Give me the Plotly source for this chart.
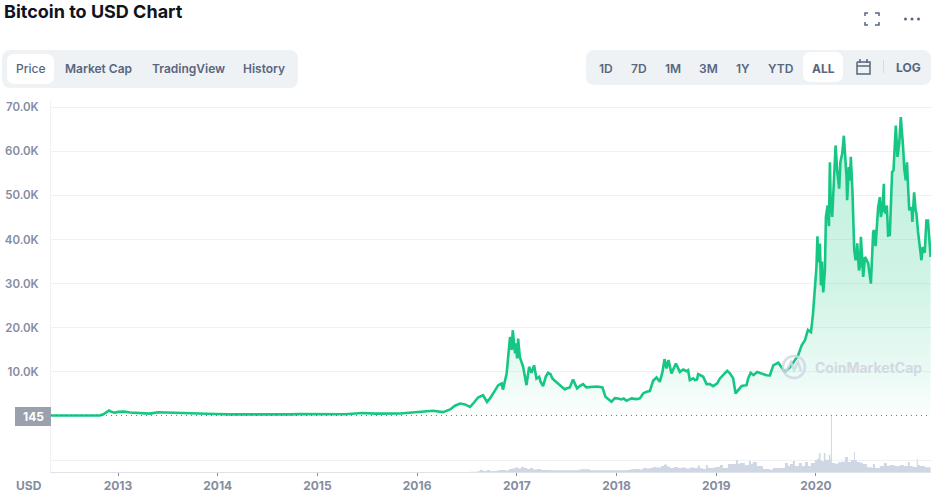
import plotly.graph_objects as go

price_years = [2012.328,2012.569,2012.819,2012.849,2012.880,2012.910,2012.940,2012.970,2013.000,2013.060,2013.120,2013.221,2013.321,2013.401,2013.522,2013.672,2013.822,2013.973,2014.123,2014.324,2014.525,2014.725,2014.825,2015.026,2015.277,2015.447,2015.578,2015.829,2016.000,2016.160,2016.260,2016.331,2016.431,2016.531,2016.611,2016.661,2016.701,2016.781,2016.848,2016.861,2016.898,2016.932,2016.949,2016.959,2016.982,2016.992,2017.003,2017.013,2017.030,2017.063,2017.097,2017.123,2017.147,2017.173,2017.197,2017.263,2017.313,2017.338,2017.381,2017.424,2017.481,2017.531,2017.564,2017.604,2017.664,2017.698,2017.859,2017.889,2017.949,2017.983,2018.050,2018.100,2018.150,2018.234,2018.267,2018.334,2018.367,2018.401,2018.434,2018.461,2018.481,2018.501,2018.521,2018.551,2018.595,2018.635,2018.718,2018.735,2018.808,2018.818,2018.869,2018.903,2018.969,2019.010,2019.037,2019.110,2019.170,2019.194,2019.237,2019.304,2019.345,2019.373,2019.411,2019.538,2019.572,2019.622,2019.659,2019.689,2019.739,2019.789,2019.822,2019.857,2019.890,2019.920,2019.950,2019.970,2019.990,2020.005,2020.015,2020.025,2020.040,2020.050,2020.060,2020.073,2020.090,2020.100,2020.117,2020.130,2020.140,2020.147,2020.163,2020.180,2020.197,2020.213,2020.233,2020.245,2020.263,2020.280,2020.297,2020.313,2020.330,2020.350,2020.367,2020.384,2020.398,2020.414,2020.431,2020.451,2020.474,2020.501,2020.524,2020.551,2020.574,2020.598,2020.624,2020.641,2020.668,2020.681,2020.701,2020.724,2020.741,2020.764,2020.801,2020.818,2020.836,2020.851,2020.874,2020.886,2020.901,2020.921,2020.949,2020.967,2020.985,2021.008,2021.024,2021.058,2021.091,2021.108,2021.124,2021.150]
price_usd = [145,130,160,350,900,1250,900,750,950,1000,800,620,560,850,750,560,480,460,380,350,340,380,450,420,400,700,560,600,900,1200,900,1500,2850,2100,4200,4750,3200,5900,7400,6000,9660,17940,15000,19450,14180,16500,13050,17570,13400,11150,7000,11150,9800,11500,8500,6800,9800,9500,8000,7200,6030,6500,8300,6260,7240,6490,6490,4370,3240,4070,3770,3460,4000,4000,5130,5650,8000,8740,7760,10000,12900,10800,12670,9660,11900,10000,10400,8150,8300,9500,8900,7240,6790,7400,8530,10250,8530,5130,6490,7000,9800,9300,10000,9200,11500,12100,11000,10000,11000,12670,13800,16050,17200,19500,19000,23000,28500,33700,40700,34800,39100,29600,35000,28000,33000,45100,47700,43000,57500,49000,45100,55000,61300,55600,51500,57500,59400,63500,57900,48900,56400,58700,50400,37600,35300,39100,33000,40600,31500,35700,34600,30000,41700,38500,47300,49600,47300,52600,45900,40900,41000,55300,65800,58700,62000,67700,61000,56000,53400,53400,47300,44000,50700,45900,41700,35300,37000,44300,44300,36000]

# further readings taken from the jagged stretches of the line
detail_years = [2016.380,2016.480,2016.563,2016.731,2016.814,2017.224,2017.238,2017.290,2017.357,2017.447,2017.497,2017.631,2017.738,2017.805,2018.016,2018.072,2018.202,2018.301,2018.669,2018.703,2018.769,2018.785,2018.843,2018.936,2019.070,2019.137,2019.254,2019.320,2019.454,2019.504,2020.307,2020.340,2020.405,2020.441,2020.491,2020.583,2020.651,2020.684,2020.711,2020.778,2020.913,2020.936,2020.961,2021.000,2021.071]
detail_usd = [2340,2640,2860,4000,7000,8900,7800,8900,8500,6800,6260,6800,6600,6700,4000,4000,3850,5500,10550,10160,8530,8150,9240,7240,9240,9700,6800,8500,9660,9240,54100,53400,36000,33800,36000,42100,45100,46600,47700,55650,57500,46600,46600,46600,38300]

volume_years = [2016.531,2016.611,2016.631,2016.661,2016.701,2016.731,2016.801,2016.831,2016.881,2016.921,2016.951,2016.982,2017.013,2017.043,2017.073,2017.103,2017.133,2017.163,2017.203,2017.243,2017.284,2017.334,2017.614,2017.634,2017.734,2018.095,2018.135,2018.165,2018.205,2018.234,2018.264,2018.304,2018.334,2018.364,2018.394,2018.425,2018.445,2018.475,2018.505,2018.535,2018.575,2018.615,2018.655,2018.695,2018.735,2018.775,2018.815,2018.836,2018.866,2018.896,2018.916,2018.936,2018.986,2019.037,2019.067,2019.117,2019.167,2019.197,2019.217,2019.237,2019.287,2019.327,2019.347,2019.367,2019.408,2019.468,2019.538,2019.568,2019.659,2019.689,2019.719,2019.739,2019.769,2019.789,2019.829,2019.859,2019.890,2019.920,2019.950,2019.990,2020.010,2020.030,2020.045,2020.060,2020.080,2020.095,2020.110,2020.130,2020.145,2020.150,2020.160,2020.191,2020.221,2020.251,2020.291,2020.321,2020.351,2020.381,2020.391,2020.411,2020.441,2020.471,2020.511,2020.561,2020.571,2020.591,2020.611,2020.641,2020.681,2020.711,2020.741,2020.791,2020.841,2020.881,2020.921,2020.941,2020.971,2021.011,2021.021,2021.041,2021.091,2021.150]
volume_bn = [2,6,12,6,12,6,9,12,9,18,21,27,21,30,24,18,24,15,18,12,12,10,12,16,11,12,15,18,18,15,24,21,24,30,27,27,36,45,33,24,30,24,27,21,27,24,39,22,18,42,25,24,30,42,24,48,48,72,50,54,42,66,50,60,36,18,14,24,24,54,36,48,66,36,54,36,60,36,54,72,80,114,70,64,114,75,72,102,78,336,54,50,58,62,90,60,72,120,70,60,56,48,28,24,48,26,24,36,54,38,42,36,42,36,60,36,30,78,42,36,28,30]

year_ticks = [2013,2014,2015,2016,2017,2018,2019,2020]
price_ticks = [-10000,10000,20000,30000,40000,50000,60000,70000]
price_tick_labels = ["","10.0K","20.0K","30.0K","40.0K","50.0K","60.0K","70.0K"]
current_price = 145
current_label = "145"
title_text = "Bitcoin to USD Chart"
tabs = ["Price","Market Cap","TradingView","History"]
ranges = ["1D","7D","1M","3M","1Y","YTD","ALL"]

merged = sorted(zip(price_years + detail_years, price_usd + detail_usd))
line_x = [a for a, _ in merged]
line_y = [b for _, b in merged]

W, H = 931, 498
GREEN = "#16c784"
FONT = "Inter"
px = lambda x: x / W
py = lambda y: 1 - y / H


def rrect(x0, y0, x1, y1, r, fill, layer="below"):
    p = (f"M {px(x0+r)} {py(y0)} L {px(x1-r)} {py(y0)} Q {px(x1)} {py(y0)} {px(x1)} {py(y0+r)} "
         f"L {px(x1)} {py(y1-r)} Q {px(x1)} {py(y1)} {px(x1-r)} {py(y1)} "
         f"L {px(x0+r)} {py(y1)} Q {px(x0)} {py(y1)} {px(x0)} {py(y1-r)} "
         f"L {px(x0)} {py(y0+r)} Q {px(x0)} {py(y0)} {px(x0+r)} {py(y0)} Z")
    return dict(type="path", path=p, xref="paper", yref="paper", fillcolor=fill, line_width=0, layer=layer)


def stroke(points, color, width=1.5):
    p = "M " + " L ".join(f"{px(a)} {py(b)}" for a, b in points)
    return dict(type="path", path=p, xref="paper", yref="paper", line=dict(color=color, width=width), layer="above")


def label(x, y, text, size=12, color="#58667e", weight=600, anchor="center"):
    return dict(x=px(x), y=py(y), xref="paper", yref="paper", text=text, showarrow=False, xanchor=anchor,
                yanchor="middle", borderpad=0, font=dict(family=FONT, size=size, color=color, weight=weight))


fig = go.Figure()
fig.add_trace(go.Scatter(x=volume_years, y=volume_bn, yaxis="y2", mode="lines", line=dict(width=0, shape="hv", color="#cfd6e4"),
                         fill="tozeroy", fillcolor="#cfd6e4", hoverinfo="skip"))
fig.add_trace(go.Scatter(x=line_x, y=line_y, mode="lines", line=dict(color=GREEN, width=2.6),
                         fill="tozeroy",
                         fillgradient=dict(type="vertical", start=0, stop=70000, colorscale=[
                             [0, "rgba(22,199,132,0.01)"], [0.14, "rgba(22,199,132,0.09)"],
                             [0.43, "rgba(22,199,132,0.2)"], [1, "rgba(22,199,132,0.28)"]])))

ink = "#58667e"
shapes = [
    rrect(2, 50, 298, 88, 9, "#eff2f5"), rrect(7, 54, 54, 84, 8, "#ffffff"),
    rrect(586, 50, 931, 85, 9, "#eff2f5"), rrect(803, 52, 843, 82, 8, "#ffffff"),
    rrect(15, 407, 51, 426, 0, "#9aa0ad", "above"),
    dict(type="line", xref="paper", yref="y", x0=px(51), x1=1, y0=current_price, y1=current_price,
         line=dict(color="#707070", width=1, dash="1px,4px"), layer="above"),
    dict(type="line", xref="paper", yref="paper", x0=px(883.5), x1=px(883.5), y0=py(60), y1=py(73),
         line=dict(color="#d5dae3", width=1)),
    stroke([(857, 62), (870, 62), (870, 74), (857, 74), (857, 62)], ink),
    stroke([(857, 66), (870, 66)], ink), stroke([(860, 59), (860, 63)], ink), stroke([(867, 59), (867, 63)], ink),
    stroke([(865, 16), (865, 13), (868, 13)], ink), stroke([(875, 13), (879, 13), (879, 16)], ink),
    stroke([(865, 22), (865, 25), (868, 25)], ink), stroke([(875, 25), (879, 25), (879, 22)], ink),
    dict(type="circle", xref="paper", yref="paper", x0=px(783), x1=px(805), y0=py(378), y1=py(356),
         line=dict(color="rgba(207,214,228,0.85)", width=2.5), layer="above"),
    stroke([(786, 372), (791, 362), (794, 370), (798, 362), (801, 371)], "rgba(207,214,228,0.85)", 2.5),
]

annotations = [
    label(3, 12, title_text, size=18, color="#0d1421", weight=700, anchor="left"),
    label(33, 416.5, current_label, size=12, color="#ffffff", weight=700),
    label(15, 485, "USD", size=12, color="#858ca2", weight=700, anchor="left"),
    label(814, 367, "CoinMarketCap", size=14, color="#d3d8e2", weight=700, anchor="left"),
    label(908.5, 67, "LOG", size=12, weight=700),
]
for t, x in zip(tabs, [31, 98.5, 188, 264]):
    annotations.append(label(x, 69, t, size=12, weight=500 if t == "Price" else 600))
for t, x in zip(ranges, [605.5, 638.5, 673, 708.5, 743, 781, 823]):
    annotations.append(label(x, 68, t, size=12, weight=700 if t == "ALL" else 600))
for x in [905.5, 912, 918.5]:
    shapes.append(dict(type="circle", xref="paper", yref="paper", x0=px(x - 1.5), x1=px(x + 1.5),
                       y0=py(20.5), y1=py(17.5), fillcolor=ink, line_width=0, layer="above"))

fig.update_layout(
    width=W, height=H, autosize=False, showlegend=False, paper_bgcolor="white", plot_bgcolor="white",
    margin=dict(l=0, r=0, t=0, b=0), shapes=shapes, annotations=annotations,
    font=dict(family=FONT),
    xaxis=dict(domain=[px(51), 1], range=[2012.328, 2021.154], tickmode="array", tickvals=year_ticks,
               ticktext=[str(y) for y in year_ticks], showgrid=False, zeroline=False, showline=True,
               linecolor="#dfe3ea", linewidth=1, ticks="outside", ticklen=3, tickcolor="#858ca2", tickwidth=1,
               tickfont=dict(family=FONT, size=12, color="#858ca2", weight=700), automargin=False),
    yaxis=dict(domain=[py(472), py(100.5)], range=[-12667, 71480], tickmode="array", tickvals=price_ticks,
               ticktext=price_tick_labels, showgrid=True, gridcolor="#eff2f5", gridwidth=1, zeroline=False,
               showline=True, linecolor="#eff2f5", ticks="", ticklabelstandoff=9,
               tickfont=dict(family=FONT, size=11.5, color="#858ca2", weight=600), automargin=False),
    yaxis2=dict(domain=[py(472), py(100.5)], range=[0, 2232], overlaying="y", side="left", visible=False),
)

fig.write_html("out.html", config={"displayModeBar": False},
               post_script="document.body.style.margin='0';document.documentElement.style.overflow='hidden';")
